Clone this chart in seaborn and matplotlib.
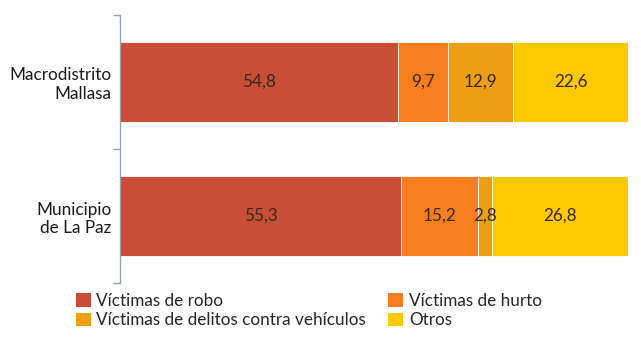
import matplotlib
matplotlib.use("Agg")
import matplotlib.pyplot as plt
import seaborn as sns
import pandas as pd
import numpy as np
from matplotlib.patches import Patch

categories = ["Macrodistrito\nMallasa", "Municipio\nde La Paz"]
series_names = ["Víctimas de robo", "Víctimas de hurto",
                "Víctimas de delitos contra vehículos", "Otros"]
robo = [54.8, 55.3]
hurto = [9.7, 15.2]
vehiculos = [12.9, 2.8]
otros = [22.6, 26.8]
colors = ["#C84E37", "#F97E1D", "#EC9F12", "#FEC900"]

sns.set_theme(style="white")
plt.rcParams['font.family'] = ['Lato', 'DejaVu Sans']

values = [robo, hurto, vehiculos, otros]
cum = np.cumsum(np.array(values), axis=0)

fig = plt.figure(figsize=(6.41, 3.51), dpi=100)
ax = fig.add_axes([120/641, 1-283/351, 508/641, 268/351])

# overlapping cumulative bars, largest first
for i in range(len(values) - 1, -1, -1):
    df = pd.DataFrame({"cat": categories, "val": cum[i]})
    sns.barplot(data=df, y="cat", x="val", orient="h", color=colors[i],
                saturation=1, width=0.59, edgecolor="white", linewidth=0.6,
                ax=ax)

# labels
for i, vals in enumerate(values):
    for j, v in enumerate(vals):
        start = cum[i][j] - v
        ax.text(start + v / 2, j, f"{v:.1f}".replace(".", ","),
                ha="center", va="center", fontsize=12.3, color="#3b2a1a")

ax.set_xlim(0, 100)
ax.set_ylim(1.5, -0.5)
ax.set_xlabel("")
ax.set_ylabel("")
ax.set_xticks([])
for s in ["top", "right", "bottom"]:
    ax.spines[s].set_visible(False)
ax.spines["left"].set_color("#8fa3ad")
ax.spines["left"].set_linewidth(1.0)
ax.set_yticks([0, 1])
ax.set_yticklabels(categories, fontsize=12.3, color="#1a1a1a", ha="right",
                   multialignment="right")
ax.tick_params(axis="y", which="major", length=0, pad=6)
ax.set_yticks([-0.5, 0.5, 1.5], minor=True)
ax.tick_params(axis="y", which="minor", left=True, length=5, color="#8fa3ad",
               direction="out", width=1)

handles = [Patch(facecolor=c, edgecolor="none") for c in colors]
order = [0, 2, 1, 3]
fig.legend([handles[k] for k in order], [series_names[k] for k in order],
           ncol=2, loc="upper left", bbox_to_anchor=(76/641, 1-293/351),
           frameon=False, fontsize=12.3, handlelength=0.85, handleheight=0.85,
           handletextpad=0.35, columnspacing=1.3, labelspacing=0.2,
           borderaxespad=0, borderpad=0)

fig.savefig("out.png", dpi=100)
